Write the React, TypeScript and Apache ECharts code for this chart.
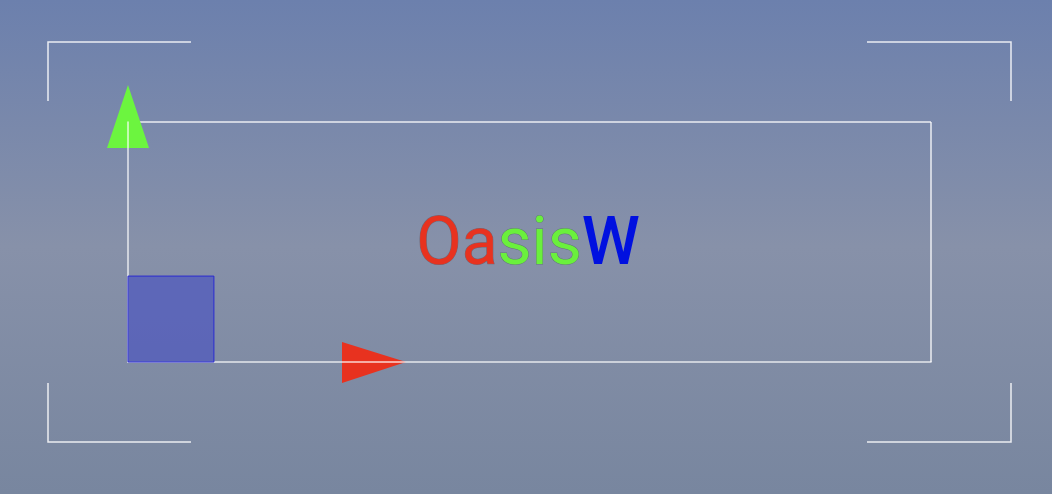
import { useEffect, useRef } from "react";
import * as echarts from "echarts";

// frame axes range and the blue marker square (axis units)
const axisRange = [0, 100];
const square = [{ x0: 0, y0: 0, x1: 10.7, y1: 35.8 }];
const titleParts = [
  { text: "Oasis", split: 1, colors: ["#e8321f", "#6af03c"] },
];

export default function App() {
  const ref = useRef<HTMLDivElement>(null);

  useEffect(() => {
    if (!ref.current) return;
    const chart = echarts.init(ref.current, undefined, { renderer: "svg" });
    const line = { stroke: "rgba(255,255,255,0.85)", lineWidth: 1.5, fill: "none" };

    chart.setOption({
      animation: false,
      backgroundColor: new echarts.graphic.LinearGradient(0, 0, 0, 1, [
        { offset: 0, color: "#6c80ad" },
        { offset: 0.5, color: "#8791a9" },
        { offset: 1, color: "#78869f" },
      ]),
      grid: { left: 128, right: 121, top: 122, bottom: 132 },
      xAxis: {
        type: "value", min: axisRange[0], max: axisRange[1],
        axisLine: { show: true, lineStyle: { color: "rgba(255,255,255,0.8)", width: 1.5 } },
        axisTick: { show: false }, axisLabel: { show: false }, splitLine: { show: false },
      },
      yAxis: {
        type: "value", min: axisRange[0], max: axisRange[1],
        axisLine: { show: true, lineStyle: { color: "rgba(255,255,255,0.8)", width: 1.5 } },
        axisTick: { show: false }, axisLabel: { show: false }, splitLine: { show: false },
      },
      series: [
        {
          type: "custom",
          data: square.map(s => [s.x0, s.y0, s.x1, s.y1]),
          renderItem: (_p: any, api: any) => {
            const a = api.coord([api.value(0), api.value(1)]);
            const b = api.coord([api.value(2), api.value(3)]);
            return {
              type: "rect",
              shape: { x: a[0], y: b[1], width: b[0] - a[0], height: a[1] - b[1] },
              style: { fill: "rgba(80,90,190,0.75)", stroke: "#2a2ad0", lineWidth: 1 },
            };
          },
        },
      ],
      graphic: [
        { type: "polyline", shape: { points: [[931, 122], [931, 362]] }, style: line },
        { type: "polyline", shape: { points: [[128, 122], [931, 122]] }, style: line },
        { type: "polyline", shape: { points: [[48, 101], [48, 42], [191, 42]] }, style: line },
        { type: "polyline", shape: { points: [[867, 42], [1011, 42], [1011, 101]] }, style: line },
        { type: "polyline", shape: { points: [[48, 383], [48, 442], [191, 442]] }, style: line },
        { type: "polyline", shape: { points: [[867, 442], [1011, 442], [1011, 383]] }, style: line },
        { type: "polygon", shape: { points: [[128, 85], [149, 148], [107, 148]] }, style: { fill: "#6cf53f" } },
        { type: "polygon", shape: { points: [[342, 342], [406, 362], [342, 383]] }, style: { fill: "#e8321f" } },
        {
          type: "text", x: 528, y: 241,
          style: {
            text: `{a|${titleParts[0].text.slice(0, 2)}}{b|${titleParts[0].text.slice(2)}}{c|W}`,
            align: "center", verticalAlign: "middle",
            font: "66px Roboto",
            rich: {
              a: { fill: "#e8321f", font: "66px Roboto", stroke: "rgba(80,40,40,0.4)", lineWidth: 1 },
              b: { fill: "#6af03c", font: "66px Roboto", stroke: "rgba(40,80,40,0.4)", lineWidth: 1 },
              c: { fill: "#0010e0", font: "500 66px Roboto" },
            },
          },
        },
      ],
    });
    return () => chart.dispose();
  }, []);

  return <div ref={ref} style={{ position: "fixed", left: 0, top: 0, width: 1052, height: 494 }} />;
}
